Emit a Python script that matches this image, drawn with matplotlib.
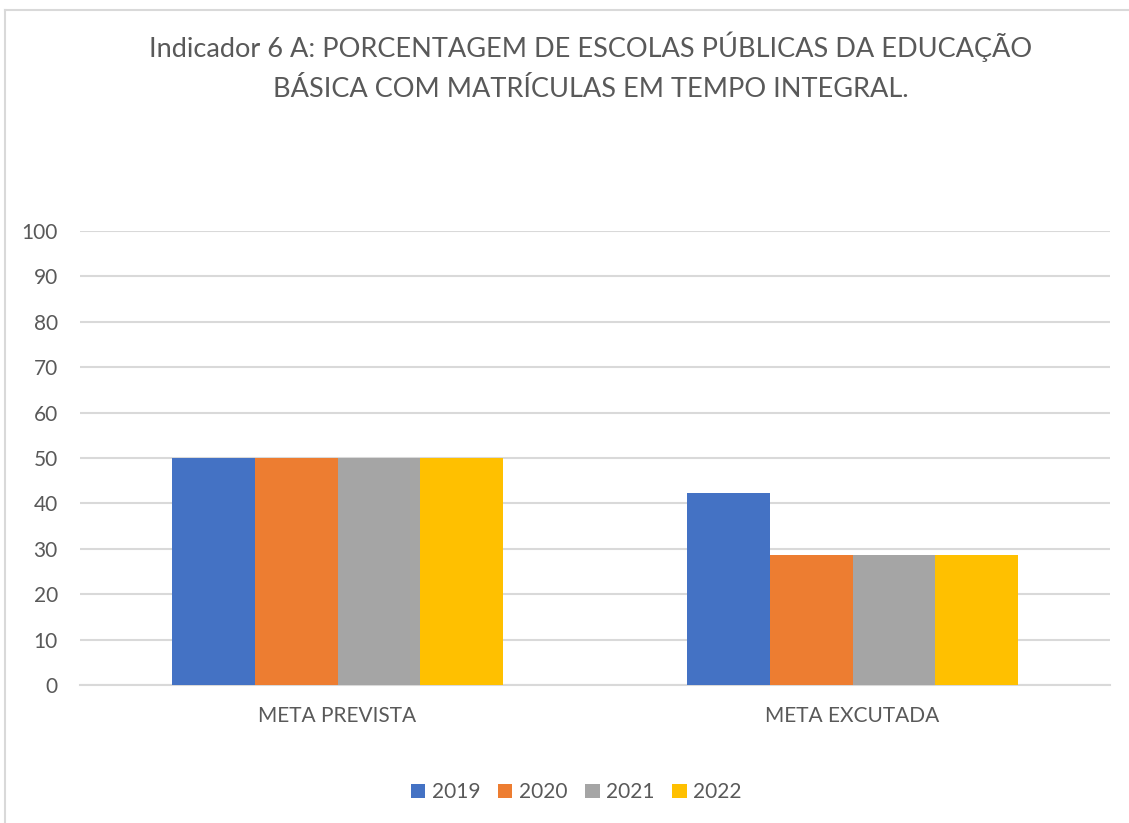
import numpy as np
import matplotlib.pyplot as plt
from matplotlib.lines import Line2D

plt.rcParams['font.family'] = ['Lato', 'DejaVu Sans']

# ---------------- DATA ---------------- #
categorias = ["META PREVISTA", "META EXCUTADA"]
anos = ["2019", "2020", "2021", "2022"]
valores = {
    "2019": [50, 42.4],
    "2020": [50, 28.6],
    "2021": [50, 28.6],
    "2022": [50, 28.6],
}
cores = ["#4472C4", "#ED7D31", "#A5A5A5", "#FFC000"]
yticks = [0, 10, 20, 30, 40, 50, 60, 70, 80, 90, 100]

titulo = ("Indicador 6 A: PORCENTAGEM DE ESCOLAS PÚBLICAS DA EDUCAÇÃO\n"
          "BÁSICA COM MATRÍCULAS EM TEMPO INTEGRAL.")

# ---------------- PLOT ---------------- #
fig = plt.figure(figsize=(11.29, 8.23), dpi=100)
ax = fig.add_axes([0.0709, 0.1677, 0.9123, 0.5516])

x = np.arange(len(categorias))
largura = 0.161
for i, ano in enumerate(anos):
    ax.bar(x + (i - 1.5) * largura, valores[ano], largura, color=cores[i],
           label=ano, zorder=3)

ax.set_xlim(-0.5, 1.5)
ax.set_ylim(0, 100)
ax.set_yticks(yticks)
ax.set_xticks(x)
ax.set_xticklabels(categorias)
ax.yaxis.grid(True, color="#D9D9D9", linewidth=1.5, zorder=0)
ax.tick_params(axis='both', length=0, labelsize=15, colors="#595959")
ax.tick_params(axis='y', pad=16)
ax.tick_params(axis='x', pad=15)
for lado in ["top", "right", "left"]:
    ax.spines[lado].set_visible(False)
ax.spines["bottom"].set_color("#D9D9D9")
ax.spines["bottom"].set_linewidth(1.5)

fig.text(0.523, 0.962, titulo, ha="center", va="top", fontsize=19.5,
         color="#595959", linespacing=1.75)

ax.legend(loc="center", bbox_to_anchor=(0.4816, -0.236), ncol=4, frameon=False,
          fontsize=15, handlelength=0.7, handleheight=0.7, handletextpad=0.3,
          columnspacing=0.85, labelcolor="#595959")

# moldura cinza do grafico (so topo e esquerda visiveis)
fig.add_artist(Line2D([5 / 1129, 1.0], [1 - 10 / 823, 1 - 10 / 823],
                      transform=fig.transFigure, color="#D9D9D9", linewidth=1.5))
fig.add_artist(Line2D([5 / 1129, 5 / 1129], [0.0, 1 - 10 / 823],
                      transform=fig.transFigure, color="#D9D9D9", linewidth=1.5))

fig.savefig("out.png", dpi=100)
